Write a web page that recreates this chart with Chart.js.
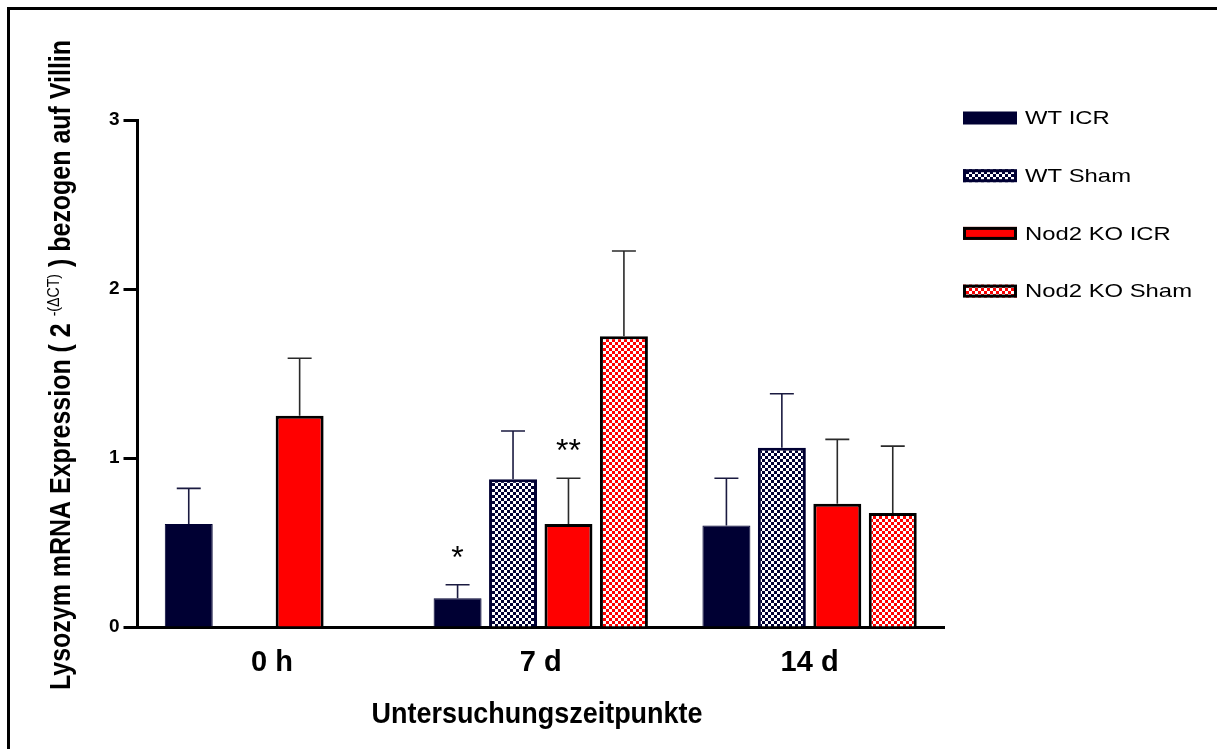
<!DOCTYPE html>
<html>
<head>
<meta charset="utf-8">
<script src="https://cdn.jsdelivr.net/npm/chart.js@4.4.1/dist/chart.umd.min.js"></script>
<style>
  html, body { margin: 0; padding: 0; background: #ffffff; }
  canvas { display: block; }
</style>
</head>
<body>
<canvas id="chart" width="1217" height="749"></canvas>
<script>
// Time points and group names
const categories = ['0 h', '7 d', '14 d'];
const seriesNames = ['WT ICR', 'WT Sham', 'Nod2 KO ICR', 'Nod2 KO Sham'];

// Mean expression and upper error per group (null = not measured)
const wtIcrMean  = [0.61, 0.17, 0.60];
const wtIcrErr   = [0.21, 0.08, 0.28];
const wtShamMean = [null, 0.875, 1.06];
const wtShamErr  = [null, 0.285, 0.32];
const koIcrMean  = [1.25, 0.61, 0.73];
const koIcrErr   = [0.34, 0.27, 0.38];
const koShamMean = [null, 1.72, 0.675];
const koShamErr  = [null, 0.505, 0.395];

// Significance marks above bars
const wtIcrStars  = ['', '*', ''];
const wtShamStars = ['', '', ''];
const koIcrStars  = ['', '**', ''];
const koShamStars = ['', '', ''];

// Value axis ticks
const yTicks = [0, 1, 2, 3];
const yMax = 3;

const NAVY = '#000033';
const RED = '#ff0000';
const FONT = "'Liberation Sans', Arial, Helvetica, sans-serif";

const canvas = document.getElementById('chart');
const ctx = canvas.getContext('2d');

function checker(color) {
  const t = document.createElement('canvas');
  t.width = 6; t.height = 6;
  const g = t.getContext('2d');
  g.fillStyle = color; g.fillRect(0, 0, 6, 6);
  g.fillStyle = '#ffffff';
  g.fillRect(0, 0, 3, 3);
  g.fillRect(3, 3, 3, 3);
  return ctx.createPattern(t, 'repeat');
}
const navyChecks = checker(NAVY);
const redChecks = checker(RED);

const datasets = [
  { label: seriesNames[0], data: wtIcrMean, err: wtIcrErr, stars: wtIcrStars,
    backgroundColor: NAVY, borderColor: NAVY, borderWidth: 1, errColor: '#1a1a40' },
  { label: seriesNames[1], data: wtShamMean, err: wtShamErr, stars: wtShamStars,
    backgroundColor: navyChecks, borderColor: NAVY, borderWidth: 3, errColor: '#1a1a40' },
  { label: seriesNames[2], data: koIcrMean, err: koIcrErr, stars: koIcrStars,
    backgroundColor: RED, borderColor: '#000000', borderWidth: 3, errColor: '#2a2a2a' },
  { label: seriesNames[3], data: koShamMean, err: koShamErr, stars: koShamStars,
    backgroundColor: redChecks, borderColor: '#000000', borderWidth: 3, errColor: '#2a2a2a' }
];

// White page with a frame on the top and left
const framePlugin = {
  id: 'frame',
  beforeDraw(chart) {
    const c = chart.ctx;
    c.save();
    c.fillStyle = '#ffffff';
    c.fillRect(0, 0, chart.width, chart.height);
    c.fillStyle = '#000000';
    c.fillRect(7, 7, chart.width - 7, 3);
    c.fillRect(7, 7, 3, chart.height - 7);
    c.restore();
  }
};

// Upper error bars with caps, plus significance stars
const errorBarPlugin = {
  id: 'errorBars',
  afterDatasetsDraw(chart) {
    const c = chart.ctx;
    const y = chart.scales.y;
    c.save();
    chart.data.datasets.forEach((ds, i) => {
      const meta = chart.getDatasetMeta(i);
      meta.data.forEach((bar, j) => {
        const m = ds.data[j];
        if (m === null || m === undefined) return;
        const top = y.getPixelForValue(m + ds.err[j]);
        const half = bar.width * 0.25;
        c.strokeStyle = ds.errColor;
        c.lineWidth = 1.6;
        c.beginPath();
        c.moveTo(bar.x, bar.y);
        c.lineTo(bar.x, top);
        c.moveTo(bar.x - half, top);
        c.lineTo(bar.x + half, top);
        c.stroke();
        const s = ds.stars[j];
        if (s) {
          c.font = '32px ' + FONT;
          c.fillStyle = '#000000';
          c.textAlign = 'center';
          c.textBaseline = 'alphabetic';
          const mt = c.measureText(s);
          const mid = top - 33;
          const base = mid + (mt.actualBoundingBoxAscent - mt.actualBoundingBoxDescent) / 2;
          c.fillText(s, bar.x, base);
        }
      });
    });
    c.restore();
  }
};

// Axis titles (rotated value-axis title with superscript) and legend
const textPlugin = {
  id: 'texts',
  afterDraw(chart) {
    const c = chart.ctx;
    c.save();
    c.fillStyle = '#000000';

    // Value axis title
    const p1 = 'Lysozym mRNA Expression ( 2 ';
    const sup = '-(\u0394CT)';
    const p3 = ' ) bezogen auf Villin';
    const mainFont = 'bold 30px ' + FONT;
    const supFont = '17px ' + FONT;
    c.font = mainFont; const w1 = c.measureText(p1).width; const w3 = c.measureText(p3).width;
    c.font = supFont; const ws = c.measureText(sup).width;
    const total = w1 + ws + w3;
    const span = 650;
    c.save();
    c.translate(70, 365);
    c.rotate(-Math.PI / 2);
    c.scale(span / total, 1);
    c.textAlign = 'left';
    c.textBaseline = 'alphabetic';
    let u = -total / 2;
    c.font = mainFont; c.fillText(p1, u, 0); u += w1;
    c.font = supFont; c.fillText(sup, u, -11); u += ws;
    c.font = mainFont; c.fillText(p3, u, 0);
    c.restore();

    // Category axis title
    const xt = 'Untersuchungszeitpunkte';
    c.font = 'bold 29px ' + FONT;
    const xw = c.measureText(xt).width;
    c.save();
    c.translate(537, 723);
    c.scale(331 / xw, 1);
    c.textAlign = 'center';
    c.textBaseline = 'alphabetic';
    c.fillText(xt, 0, 0);
    c.restore();

    // Legend
    c.font = '19px ' + FONT;
    const lsx = 167 / c.measureText('Nod2 KO Sham').width;
    chart.data.datasets.forEach((ds, i) => {
      const yc = 118 + i * 57.7;
      const x0 = 963, w = 54, h = 13;
      c.fillStyle = ds.backgroundColor;
      c.fillRect(x0, yc - h / 2, w, h);
      if (ds.borderWidth > 1) {
        c.strokeStyle = ds.borderColor;
        c.lineWidth = 3;
        c.strokeRect(x0 + 1.5, yc - h / 2 + 1.5, w - 3, h - 3);
      }
      c.save();
      c.translate(1025, yc);
      c.scale(lsx, 1);
      c.fillStyle = '#000000';
      c.textAlign = 'left';
      c.textBaseline = 'middle';
      c.fillText(ds.label, 0, 1);
      c.restore();
    });
    c.restore();
  }
};

new Chart(ctx, {
  type: 'bar',
  data: { labels: categories, datasets: datasets },
  plugins: [framePlugin, errorBarPlugin, textPlugin],
  options: {
    responsive: false,
    animation: false,
    events: [],
    layout: { padding: { left: 0, top: 120, right: 273, bottom: 0 } },
    datasets: { bar: { categoryPercentage: 0.825, barPercentage: 0.865 } },
    plugins: { legend: { display: false }, tooltip: { enabled: false } },
    scales: {
      x: {
        offset: true,
        grid: { display: true, drawOnChartArea: false, drawTicks: false },
        border: { display: true, width: 3, color: '#000000' },
        ticks: { color: '#000000', padding: 19, font: { family: FONT, size: 29, weight: 'bold' } },
        afterFit(scale) { scale.height = 122; }
      },
      y: {
        min: 0,
        max: yMax,
        afterBuildTicks(scale) { scale.ticks = yTicks.map(v => ({ value: v })); },
        grid: { display: true, drawOnChartArea: false, drawTicks: true, tickLength: 14, tickWidth: 3, tickColor: '#000000' },
        border: { display: true, width: 3, color: '#000000' },
        ticks: { color: '#000000', padding: 4, font: { family: FONT, size: 19, weight: 'bold' } },
        afterFit(scale) { scale.width = 137.5; }
      }
    }
  }
});
</script>
</body>
</html>
